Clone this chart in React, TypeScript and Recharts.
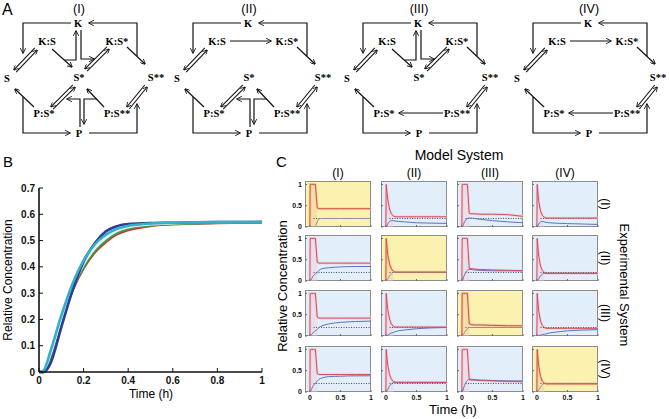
import React from "react";
import { LineChart, Line, XAxis, YAxis, ComposedChart, Area, ReferenceLine } from "recharts";

const SANS = "'Liberation Sans', Arial, sans-serif";
const SERIF = "'Liberation Serif', 'Times New Roman', serif";

// ---------- panel A ----------
const diagramTitles = ["(I)", "(II)", "(III)", "(IV)"];
const diagramMidTop = [true, false, true, false];
const diagramMidBottom = [true, true, false, false];
const sStarStarX = [156, 153, 150, 148];

// ---------- panel B ----------
const timeB = [0, 0.02, 0.05, 0.1, 0.15, 0.2, 0.25, 0.3, 0.35, 0.4, 0.5, 0.6, 0.8, 1];
const redB = [0, 0, 0.055, 0.19, 0.31, 0.395, 0.455, 0.495, 0.525, 0.54, 0.556, 0.562, 0.567, 0.57];
const greenB = [0, 0, 0.06, 0.195, 0.315, 0.4, 0.46, 0.5, 0.53, 0.545, 0.558, 0.564, 0.568, 0.57];
const whiteB = [0, 0.003, 0.065, 0.2, 0.32, 0.41, 0.47, 0.51, 0.537, 0.551, 0.562, 0.566, 0.569, 0.57];
const blueB = [0, 0, 0.03, 0.17, 0.31, 0.42, 0.49, 0.535, 0.555, 0.563, 0.567, 0.568, 0.57, 0.57];
const cyanB = [0, 0.005, 0.075, 0.215, 0.335, 0.425, 0.485, 0.522, 0.545, 0.556, 0.565, 0.568, 0.57, 0.57];
const ticksBx = [0, 0.2, 0.4, 0.6, 0.8, 1];
const ticksBy = [0, 0.1, 0.2, 0.3, 0.4, 0.5, 0.6, 0.7];

const seriesB = [
  { key: "red", color: "#c8372d", values: redB },
  { key: "green", color: "#3b9a48", values: greenB },
  { key: "white", color: "#e6f2f0", values: whiteB },
  { key: "blue", color: "#2c3d97", values: blueB },
  { key: "cyan", color: "#36b0c6", values: cyanB },
];

// ---------- panel C ----------
const timeC = [0, 0.005, 0.03, 0.06, 0.09, 0.12, 0.15, 0.2, 0.3, 0.5, 0.75, 1];
const colTitles = ["(I)", "(II)", "(III)", "(IV)"];
const rowTitles = ["(I)", "(II)", "(III)", "(IV)"];
const targetC = 0.2;
const targetStartC = 0.06;
const pulseEndC = 0.12;

// rows = experimental system, columns = model system
const redRow1 = [
  [0, 1, 1, 1, 1, 0.45, 0.43, 0.43, 0.43, 0.43, 0.43, 0.43],
  [0, 1, 0.65, 0.42, 0.31, 0.26, 0.24, 0.24, 0.24, 0.24, 0.24, 0.24],
  [0, 1, 1, 1, 1, 0.32, 0.31, 0.31, 0.3, 0.3, 0.29, 0.25],
  [0, 1, 0.6, 0.38, 0.27, 0.23, 0.21, 0.21, 0.21, 0.21, 0.21, 0.21],
];
const blueRow1 = [
  [0, 0, 0, 0, 0.02, 0.12, 0.19, 0.2, 0.2, 0.2, 0.2, 0.2],
  [0, 0, 0.07, 0.13, 0.15, 0.15, 0.14, 0.13, 0.12, 0.1, 0.09, 0.085],
  [0, 0, 0.08, 0.16, 0.2, 0.21, 0.21, 0.2, 0.18, 0.15, 0.12, 0.1],
  [0, 0, 0.07, 0.12, 0.13, 0.12, 0.11, 0.1, 0.09, 0.08, 0.07, 0.06],
];
const redRow2 = [
  [0, 1, 1, 1, 1, 0.44, 0.42, 0.42, 0.42, 0.42, 0.42, 0.42],
  [0, 1, 0.62, 0.4, 0.28, 0.23, 0.21, 0.21, 0.21, 0.21, 0.21, 0.21],
  [0, 1, 1, 1, 1, 0.3, 0.29, 0.28, 0.27, 0.26, 0.25, 0.24],
  [0, 1, 0.58, 0.35, 0.24, 0.2, 0.18, 0.18, 0.18, 0.18, 0.18, 0.18],
];
const blueRow2 = [
  [0, 0, 0.06, 0.13, 0.17, 0.2, 0.25, 0.29, 0.31, 0.33, 0.34, 0.34],
  [0, 0, 0.05, 0.12, 0.17, 0.2, 0.2, 0.2, 0.2, 0.2, 0.2, 0.2],
  [0, 0, 0.1, 0.2, 0.25, 0.27, 0.27, 0.26, 0.25, 0.24, 0.24, 0.24],
  [0, 0, 0.05, 0.12, 0.16, 0.18, 0.18, 0.18, 0.18, 0.18, 0.18, 0.18],
];
const redRow3 = [
  [0, 1, 1, 1, 1, 0.44, 0.42, 0.42, 0.42, 0.42, 0.42, 0.42],
  [0, 1, 0.62, 0.4, 0.28, 0.23, 0.21, 0.21, 0.21, 0.21, 0.21, 0.21],
  [0, 1, 1, 1, 1, 0.29, 0.27, 0.26, 0.26, 0.25, 0.24, 0.24],
  [0, 1, 0.58, 0.35, 0.24, 0.2, 0.18, 0.18, 0.18, 0.18, 0.18, 0.18],
];
const blueRow3 = [
  [0, 0, 0.04, 0.09, 0.12, 0.15, 0.2, 0.24, 0.28, 0.32, 0.34, 0.35],
  [0, 0, 0.02, 0.05, 0.07, 0.08, 0.1, 0.12, 0.14, 0.17, 0.19, 0.2],
  [0, 0, 0.05, 0.12, 0.17, 0.2, 0.2, 0.2, 0.2, 0.2, 0.2, 0.2],
  [0, 0, 0.01, 0.02, 0.03, 0.04, 0.05, 0.07, 0.09, 0.12, 0.14, 0.15],
];
const redRow4 = [
  [0, 1, 1, 1, 1, 0.43, 0.41, 0.41, 0.41, 0.41, 0.41, 0.41],
  [0, 1, 0.63, 0.41, 0.3, 0.25, 0.23, 0.22, 0.22, 0.22, 0.22, 0.22],
  [0, 1, 1, 1, 1, 0.29, 0.28, 0.28, 0.27, 0.26, 0.25, 0.24],
  [0, 1, 0.6, 0.36, 0.25, 0.21, 0.19, 0.19, 0.19, 0.19, 0.19, 0.19],
];
const blueRow4 = [
  [0, 0, 0.08, 0.16, 0.21, 0.25, 0.3, 0.33, 0.36, 0.37, 0.38, 0.38],
  [0, 0, 0.06, 0.14, 0.19, 0.22, 0.23, 0.23, 0.23, 0.23, 0.23, 0.23],
  [0, 0, 0.1, 0.21, 0.27, 0.3, 0.3, 0.29, 0.28, 0.27, 0.26, 0.26],
  [0, 0, 0.05, 0.12, 0.17, 0.2, 0.2, 0.2, 0.2, 0.2, 0.2, 0.2],
];
const redC = [redRow1, redRow2, redRow3, redRow4];
const blueC = [blueRow1, blueRow2, blueRow3, blueRow4];

const colLeftC = [305, 381, 457, 532];
const rowTopC = [181, 235, 290, 346];
const CELL_W = 66;
const CELL_H = 46;

// ---------- panel A drawing ----------
function Arr({ d }: { d: string }) {
  return <path d={d} fill="none" stroke="#111" strokeWidth={1.2} markerEnd="url(#ah)" />;
}

function Dbl({ x1, y1, x2, y2 }: any) {
  const dx = x2 - x1;
  const dy = y2 - y1;
  const L = Math.hypot(dx, dy);
  const nx = (-dy / L) * 1.6;
  const ny = (dx / L) * 1.6;
  return (
    <g stroke="#111" strokeWidth={1.1} fill="none">
      <line x1={x1 + nx} y1={y1 + ny} x2={x2 + nx} y2={y2 + ny} markerEnd="url(#ah)" />
      <line x1={x1 - nx} y1={y1 - ny} x2={x2 - nx} y2={y2 - ny} markerStart="url(#ah)" />
    </g>
  );
}

function Diagram({ i }: { i: number }) {
  const midTop = diagramMidTop[i];
  const midBottom = diagramMidBottom[i];
  const lab = (x: number, y: number, s: string) => (
    <text x={x} y={y} textAnchor="middle" fontFamily={SERIF} fontWeight="bold" fontSize={10.5}>
      {s}
    </text>
  );
  return (
    <g transform={`translate(${i * 170},0)`}>
      <text x={79} y={13} textAnchor="middle" fontFamily={SANS} fontSize={12.5}>
        {diagramTitles[i]}
      </text>
      {lab(78, 27, "K")}
      {lab(47, 45, "K:S")}
      {lab(117, 45, "K:S*")}
      {lab(7, 82, "S")}
      {(midTop || midBottom) && lab(79, 81, "S*")}
      {lab(sStarStarX[i], 81, "S**")}
      {lab(44, 117, "P:S*")}
      {lab(117, 117, "P:S**")}
      {lab(79, 137, "P")}

      <Arr d="M71 23 H23 V53" />
      <Dbl x1={15} y1={71} x2={36} y2={49} />
      <Arr d="M127 47 L145 64" />
      <Arr d="M137 56 V23 H89" />
      <Arr d="M34 107 L15 89" />
      <Arr d="M23 97 V133 H70" />
      <Dbl x1={128} y1={108} x2={146} y2={86} />
      <Arr d="M89 133 H137 V104" />

      {midTop ? (
        <g>
          <Arr d="M52 49 L72 67" />
          <Arr d="M65 60 H76 V31" />
          <Arr d="M81 30 V59 H94" />
          <Dbl x1={86} y1={70} x2={108} y2={48} />
        </g>
      ) : (
        <Arr d="M60 41 H101" />
      )}
      {midBottom ? (
        <g>
          <Dbl x1={52} y1={108} x2={74} y2={86} />
          <Arr d="M104 107 L87 89" />
          <Arr d="M80 127 V99 H67" />
          <Arr d="M97 99 H84 V124" />
        </g>
      ) : (
        <Arr d="M103 113 H59" />
      )}
    </g>
  );
}

// ---------- panel B ----------
function PanelB() {
  const data = timeB.map((t, i) => {
    const row: any = { t };
    seriesB.forEach((s) => (row[s.key] = s.values[i]));
    return row;
  });
  const tickStyle = { fontSize: 10, fontWeight: "bold", fill: "#111", fontFamily: SANS };
  return (
    <LineChart width={275} height={240} data={data} margin={{ top: 18, right: 13, left: 0, bottom: 8 }}>
      <XAxis
        dataKey="t"
        type="number"
        domain={[0, 1]}
        ticks={ticksBx}
        height={30}
        stroke="#111"
        axisLine={{ strokeWidth: 1.6 }}
        tickSize={-4}
        tickMargin={9}
        tick={tickStyle}
      />
      <XAxis
        xAxisId="top"
        orientation="top"
        dataKey="t"
        type="number"
        domain={[0, 1]}
        ticks={ticksBx}
        height={0}
        stroke="#111"
        axisLine={{ strokeWidth: 1.6 }}
        tickSize={-4}
        tickFormatter={() => ""}
      />
      <YAxis
        type="number"
        domain={[0, 0.7]}
        ticks={ticksBy}
        width={39}
        stroke="#111"
        axisLine={{ strokeWidth: 1.6 }}
        tickSize={-4}
        tickMargin={8}
        tick={tickStyle}
      />
      <YAxis
        yAxisId="right"
        orientation="right"
        type="number"
        domain={[0, 0.7]}
        ticks={ticksBy}
        width={0}
        stroke="#111"
        axisLine={{ strokeWidth: 1.6 }}
        tickSize={-4}
        tickFormatter={() => ""}
      />
      {seriesB.map((s) => (
        <Line
          key={s.key}
          type="monotone"
          dataKey={s.key}
          stroke={s.color}
          strokeWidth={2.6}
          dot={false}
          isAnimationActive={false}
        />
      ))}
    </LineChart>
  );
}

// ---------- panel C ----------
function Cell({ row, col }: { row: number; col: number }) {
  const diag = row === col;
  const red = redC[row][col];
  const blue = blueC[row][col];
  const data = timeC.map((t, i) => ({
    t,
    red: red[i],
    blue: blue[i],
    pulse: t <= pulseEndC ? red[i] : null,
  }));
  const left = colLeftC[col];
  const top = rowTopC[row];
  const tickStyle = { fontSize: 7, fontWeight: "bold", fill: "#111", fontFamily: SANS };
  const redColor = diag ? "#cf5a3c" : "#d0505e";
  const bandColor = diag ? "#f2c7a4" : "#f1cfdc";
  const blueColor = diag ? "#8a93a8" : "#5b73c2";
  return (
    <>
      <div
        style={{
          position: "absolute",
          left,
          top,
          width: CELL_W,
          height: CELL_H,
          background: diag ? "#fbf2b0" : "#e2eef9",
          border: "1px solid #8c8c8c",
          boxSizing: "border-box",
        }}
      />
      <div style={{ position: "absolute", left: left - 20, top: top - 4 }}>
        <ComposedChart width={90} height={62} data={data} margin={{ top: 4, right: 4, left: 0, bottom: 0 }}>
          <XAxis
            dataKey="t"
            type="number"
            domain={[-0.08, 1]}
            allowDataOverflow
            ticks={[0, 0.5, 1]}
            height={12}
            axisLine={false}
            tickLine={{ stroke: "#666" }}
            tickSize={-2}
            tickMargin={5}
            tick={tickStyle}
            tickFormatter={(v: number) => (row === 3 ? String(v) : "")}
          />
          <YAxis
            type="number"
            domain={[0, 1.08]}
            allowDataOverflow
            ticks={[0, 0.5, 1]}
            width={20}
            axisLine={false}
            tickLine={{ stroke: "#666" }}
            tickSize={-2}
            tickMargin={5}
            tick={tickStyle}
            tickFormatter={(v: number) => (col === 0 ? String(v) : "")}
          />
          <Area
            type="linear"
            dataKey="pulse"
            stroke="none"
            fill={bandColor}
            fillOpacity={0.45}
            isAnimationActive={false}
          />
          <Line type="linear" dataKey="red" stroke={bandColor} strokeWidth={2.6} dot={false} isAnimationActive={false} />
          <ReferenceLine
            segment={[
              { x: targetStartC, y: targetC },
              { x: 1, y: targetC },
            ]}
            stroke="#222"
            strokeDasharray="1 1.5"
            strokeWidth={0.8}
          />
          <Line type="monotone" dataKey="blue" stroke={blueColor} strokeWidth={1} dot={false} isAnimationActive={false} />
          <Line type="linear" dataKey="red" stroke={redColor} strokeWidth={1} dot={false} isAnimationActive={false} />
        </ComposedChart>
      </div>
    </>
  );
}

export default function App() {
  return (
    <div
      style={{
        position: "relative",
        width: 669,
        height: 419,
        background: "#fff",
        overflow: "hidden",
        fontFamily: SANS,
      }}
    >
      <style>{"body{margin:0}"}</style>
      <svg width={669} height={419} style={{ position: "absolute", left: 0, top: 0 }}>
        <defs>
          <marker
            id="ah"
            viewBox="0 0 10 10"
            refX="9"
            refY="5"
            markerWidth="4.5"
            markerHeight="4.5"
            orient="auto-start-reverse"
          >
            <path d="M0,0 L10,5 L0,10" fill="none" stroke="#111" strokeWidth="1.6" />
          </marker>
        </defs>
        <text x={2} y={15} fontSize={16} fontFamily={SANS}>
          A
        </text>
        {diagramTitles.map((_, i) => (
          <Diagram key={i} i={i} />
        ))}

        <text x={3} y={167} fontSize={15} fontFamily={SANS}>
          B
        </text>
        <text transform="translate(12,280) rotate(-90)" textAnchor="middle" fontSize={12} fontFamily={SANS}>
          Relative Concentration
        </text>
        <text x={151} y={398} textAnchor="middle" fontSize={12} fontFamily={SANS}>
          Time (h)
        </text>

        <text x={276} y={167} fontSize={15} fontFamily={SANS}>
          C
        </text>
        <text x={459} y={160} textAnchor="middle" fontSize={14} fontFamily={SANS}>
          Model System
        </text>
        {colTitles.map((s, i) => (
          <text key={s} x={colLeftC[i] + CELL_W / 2} y={177} textAnchor="middle" fontSize={12} fontFamily={SANS}>
            {s}
          </text>
        ))}
        {rowTitles.map((s, i) => (
          <text
            key={s}
            transform={`translate(601,${rowTopC[i] + CELL_H / 2}) rotate(90)`}
            textAnchor="middle"
            fontSize={12}
            fontFamily={SANS}
          >
            {s}
          </text>
        ))}
        <text transform="translate(287,286) rotate(-90)" textAnchor="middle" fontSize={13} fontFamily={SANS}>
          Relative Concentration
        </text>
        <text transform="translate(620,285) rotate(90)" textAnchor="middle" fontSize={13} fontFamily={SANS}>
          Experimental System
        </text>
        <text x={453} y={414} textAnchor="middle" fontSize={13} fontFamily={SANS}>
          Time (h)
        </text>
      </svg>

      <div style={{ position: "absolute", left: 0, top: 170 }}>
        <PanelB />
      </div>

      {rowTopC.map((_, r) => colLeftC.map((_, c) => <Cell key={`${r}-${c}`} row={r} col={c} />))}
    </div>
  );
}
